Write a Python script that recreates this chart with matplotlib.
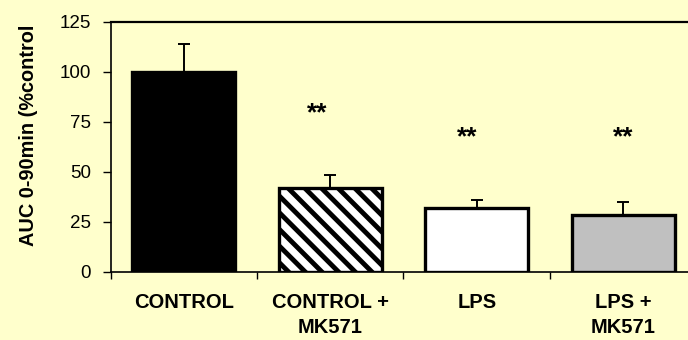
import matplotlib
matplotlib.use("Agg")
import matplotlib.pyplot as plt
from matplotlib.ticker import FixedLocator

plt.rcParams['font.family'] = ['Liberation Sans', 'DejaVu Sans']
plt.rcParams['hatch.linewidth'] = 3.5

groups = ['CONTROL', 'CONTROL +\nMK571', 'LPS', 'LPS +\nMK571']
auc = [100, 42, 32, 28.4]
sem = [13.8, 6.6, 3.9, 6.6]
fills = ['black', 'white', 'white', '#C0C0C0']
hatches = [None, '\\\\', None, None]

# significance marks (x in category units, y in axis units)
sig_x = [0.91, 1.935, 3.0]
sig_y = [75.8, 64.0, 64.0]
sig_txt = ['**', '**', '**']

bg = '#FFFFCC'
fig = plt.figure(figsize=(6.88, 3.4), dpi=100, facecolor=bg)
ax = fig.add_axes([110.5 / 688, 68.3 / 340, 586 / 688, 249.7 / 340])
ax.set_facecolor(bg)

xs = list(range(len(groups)))
bars = ax.bar(xs, auc, width=0.7, color=fills, edgecolor='black',
              linewidth=2.4, zorder=3)
for b, h in zip(bars, hatches):
    if h:
        b.set_hatch(h)

ax.errorbar(xs, auc, yerr=[[0] * len(sem), sem], fmt='none',
            ecolor='black', elinewidth=1.4, capsize=4.3, capthick=1.4,
            zorder=2)

for x, y, t in zip(sig_x, sig_y, sig_txt):
    ax.text(x, y, t, ha='center', va='baseline', fontsize=19,
            fontweight='bold')

ax.set_xlim(-0.5, 3.5)
ax.set_ylim(0, 125)
ax.set_yticks([0, 25, 50, 75, 100, 125])
ax.tick_params(axis='y', direction='out', length=6, width=1,
               labelsize=13.5, pad=8)

ax.set_xticks(xs)
ax.set_xticklabels(groups, fontsize=14.5, fontweight='bold',
                   linespacing=1.45)
ax.tick_params(axis='x', which='major', length=0, pad=15)
ax.xaxis.set_minor_locator(FixedLocator([-0.5, 0.5, 1.5, 2.5, 3.5]))
ax.tick_params(axis='x', which='minor', direction='out', length=5, width=1)

for side in ['left', 'bottom']:
    ax.spines[side].set_linewidth(1.2)
ax.spines['top'].set_linewidth(1.6)
ax.spines['right'].set_visible(False)

fig.text(0.042, 0.603, 'AUC 0-90min (%control', rotation=90,
         ha='center', va='center', fontsize=14.3, fontweight='bold')

fig.savefig('out.png', dpi=100, facecolor=bg)
